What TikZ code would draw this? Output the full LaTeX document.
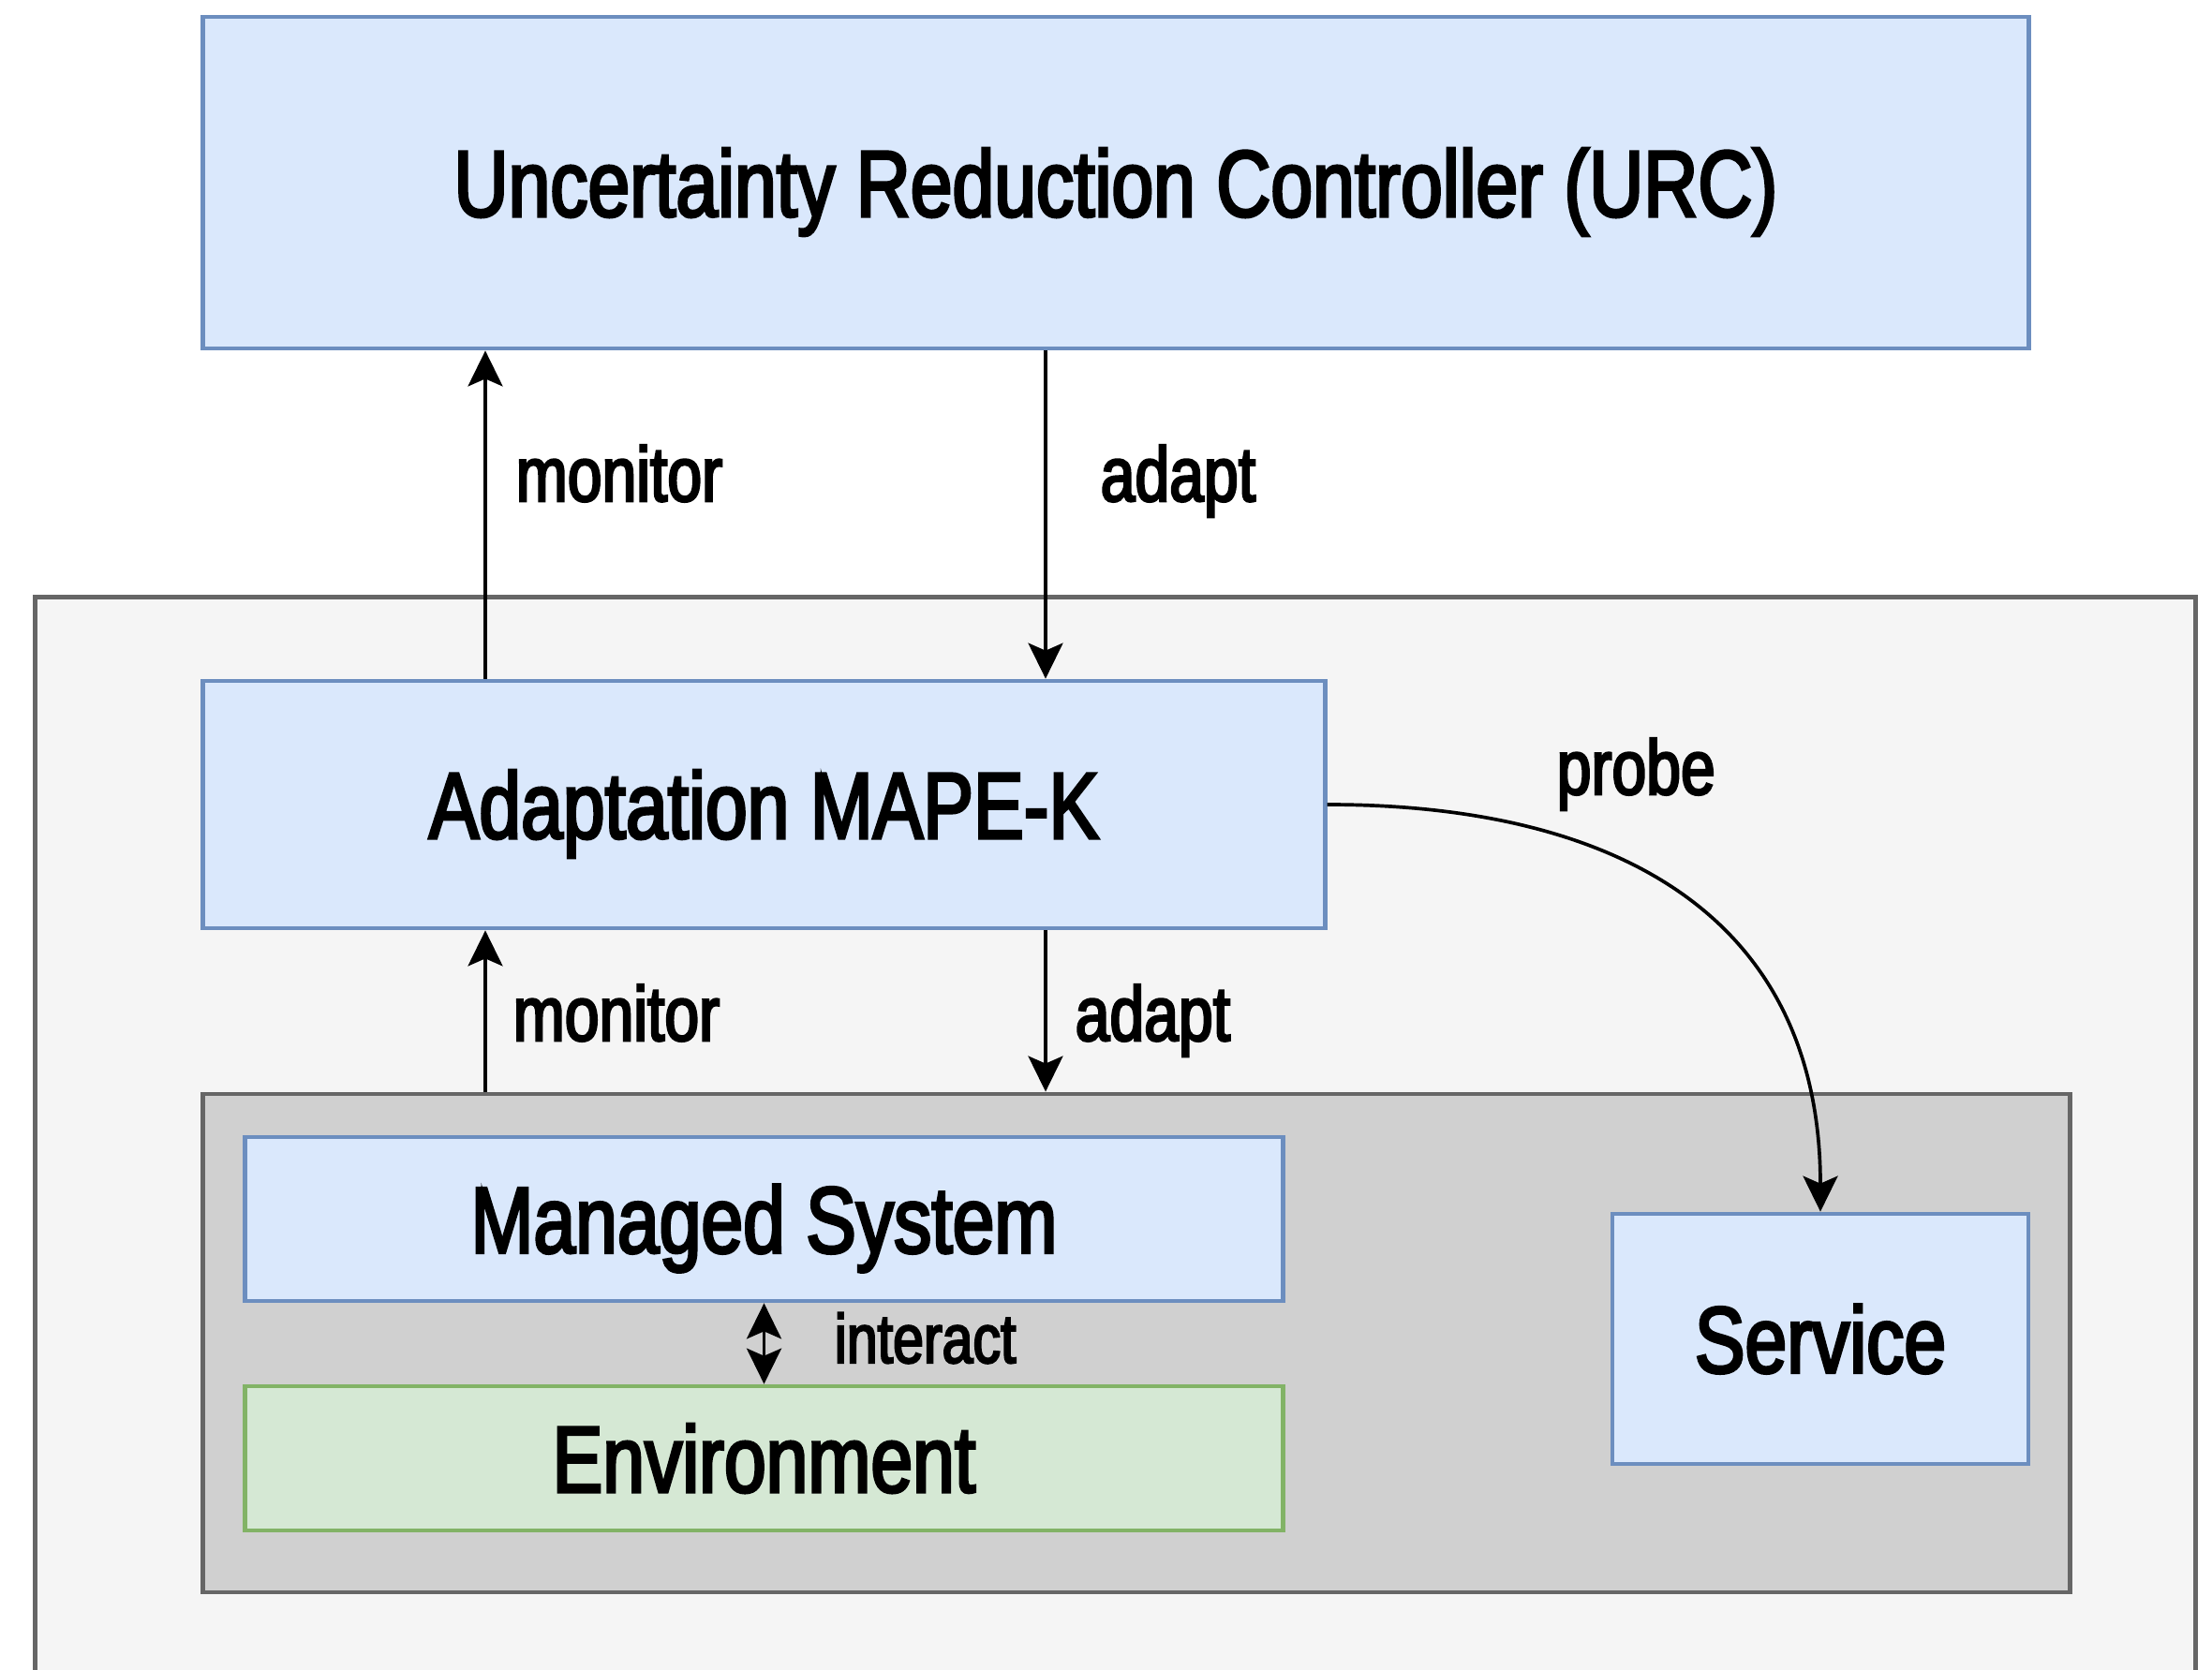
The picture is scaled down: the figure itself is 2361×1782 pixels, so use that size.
\documentclass[tikz,border=0pt]{standalone}
\usepackage{fontspec}
\setmainfont{Liberation Sans}[FakeStretch=0.8, FakeBold=3]
\usetikzlibrary{arrows.meta}
\definecolor{blueFill}{HTML}{DAE8FC}
\definecolor{blueLine}{HTML}{6C8EBF}
\definecolor{greenFill}{HTML}{D5E8D4}
\definecolor{greenLine}{HTML}{82B366}
\definecolor{panelFill}{HTML}{F5F5F5}
\definecolor{panelLine}{HTML}{666666}
\definecolor{sysFill}{HTML}{D0D0D0}
\begin{document}
\begin{tikzpicture}[x=0.01cm, y=-0.01cm,
  >={Stealth[length=0.38cm, width=0.37cm, inset=0.08cm]},
  box/.style={rectangle, draw=blueLine, fill=blueFill, line width=1.3pt, inner sep=0pt,
    text height=20.5pt, text depth=0pt, font=\fontsize{28.6pt}{30pt}\selectfont},
  envbox/.style={box, draw=greenLine, fill=greenFill},
  panel/.style={rectangle, draw=panelLine, fill=panelFill, line width=1.3pt, inner sep=0pt},
  sysbox/.style={rectangle, draw=panelLine, fill=sysFill, line width=1.3pt, inner sep=0pt},
  lbl/.style={anchor=base west, inner sep=0pt, font=\fontsize{23.5pt}{25pt}\selectfont},
  smalllbl/.style={lbl, font=\fontsize{21pt}{23pt}\selectfont},
  arr/.style={->, line width=1.05pt},
  darr/.style={<->, line width=1.05pt}
]
\useasboundingbox (0,0) rectangle (2361,1782);
\clip (0,0) rectangle (2361,1782);

% outer panel (runs past the lower edge)
\node[panel, minimum width=23.05cm, minimum height=11.62cm] (outer) at (1190.5,1219) {};

% controller on top
\node[box, minimum width=19.48cm, minimum height=3.54cm] (urc) at (1191,195)
  {Uncertainty Reduction Controller (URC)};

% MAPE-K loop
\node[box, minimum width=11.97cm, minimum height=2.64cm] (mape) at (815.5,859)
  {Adaptation MAPE-K};

% managed system group
\node[sysbox, minimum width=19.92cm, minimum height=5.32cm] (sys) at (1213,1434) {};
\node[box, minimum width=11.07cm, minimum height=1.75cm] (managed) at (815.5,1301.5)
  {Managed System};
\node[envbox, minimum width=11.07cm, minimum height=1.54cm] (env) at (815.5,1557)
  {Environment};
\node[box, minimum width=4.44cm, minimum height=2.67cm] (service) at (1943,1429.5)
  {Service};

% connector columns
\coordinate (monX) at (518,0);
\coordinate (adX) at (1116,0);

\draw[arr] (mape.north -| monX) -- (urc.south -| monX);
\draw[arr] (urc.south -| adX) -- (mape.north -| adX);
\draw[arr] (sys.north -| monX) -- (mape.south -| monX);
\draw[arr] (mape.south -| adX) -- (sys.north -| adX);
\draw[arr] (mape.east) .. controls +(330,0) and +(0,-300) .. (service.north);
\draw[darr] (managed.south) -- (env.north);

% connector labels
\node[lbl] (lMonTop) at (550,535) {monitor};
\node[lbl] (lAdTop) at (1174,535) {adapt};
\node[lbl] (lMonLow) at (547,1111) {monitor};
\node[lbl] (lAdLow) at (1147,1111) {adapt};
\node[lbl] (lProbe) at (1661,848) {probe};
\node[smalllbl] (lInteract) at (890,1455) {interact};
\end{tikzpicture}
\end{document}
